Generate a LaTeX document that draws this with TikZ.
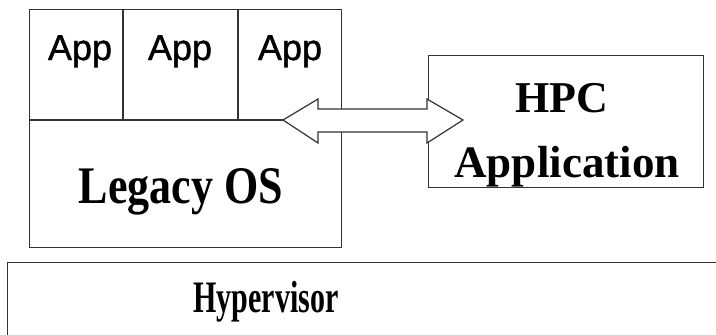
\documentclass[tikz,border=0pt]{standalone}
\usepackage{fontspec}
\setmainfont{Liberation Serif}
\newfontfamily\appfont[AutoFakeBold=1.2]{Liberation Sans}
\begin{document}
\begin{tikzpicture}[x=1pt,y=-1pt,
  box/.style={draw=black!80, line width=1.2pt, fill=white, inner sep=0pt, anchor=north west},
  lbl/.style={inner sep=0pt, anchor=base},
  apptxt/.style={lbl, font=\appfont\bfseries\fontsize{36}{40}\selectfont},
  dline/.style={draw=black!80, line width=1.2pt}]
\clip (0,0) rectangle (716,335);
\fill[white] (0,0) rectangle (716,335);
% Legacy box
\node[box, minimum width=312pt, minimum height=238pt] (legacy) at (29,9) {};
\coordinate (divL) at (29,120);
\coordinate (divR) at (283,120);
\coordinate (v1t) at (123,9);
\coordinate (v1b) at (123,120);
\coordinate (v2t) at (238,9);
\coordinate (v2b) at (238,120);
\draw[dline] (divL) -- (divR);
\draw[dline] (v1t) -- (v1b);
\draw[dline] (v2t) -- (v2b);
\node[apptxt] (app1) at (80,60) {App};
\node[apptxt] (app2) at (180,60) {App};
\node[apptxt] (app3) at (290,60) {App};
\node[lbl, font=\bfseries\fontsize{44}{48}\selectfont] (legacytxt) at (181,203) {\scalebox{1}[1.2]{Legacy OS}};
% HPC box
\node[box, minimum width=275pt, minimum height=132pt] (hpc) at (428,55) {};
\node[lbl, font=\bfseries\fontsize{44}{48}\selectfont] (hpctxt) at (562,112) {HPC};
\node[lbl, font=\bfseries\fontsize{45}{48}\selectfont] (apptxt) at (567,177) {Application};
% Hypervisor
\node[box, minimum width=760pt, minimum height=120pt] (hyp) at (7,262) {};
\node[lbl, font=\bfseries\fontsize{30}{34}\selectfont] (hyptxt) at (266,312) {\scalebox{1}[1.5]{Hypervisor}};
% double arrow between legacy and hpc
\draw[draw=black!80, line width=1.2pt, fill=white, line join=miter]
  (283,120) -- (318,99) -- (318,109) -- (427,109) -- (427,99) -- (463,120)
  -- (427,143) -- (427,132) -- (318,132) -- (318,143) -- cycle;
\end{tikzpicture}
\end{document}
